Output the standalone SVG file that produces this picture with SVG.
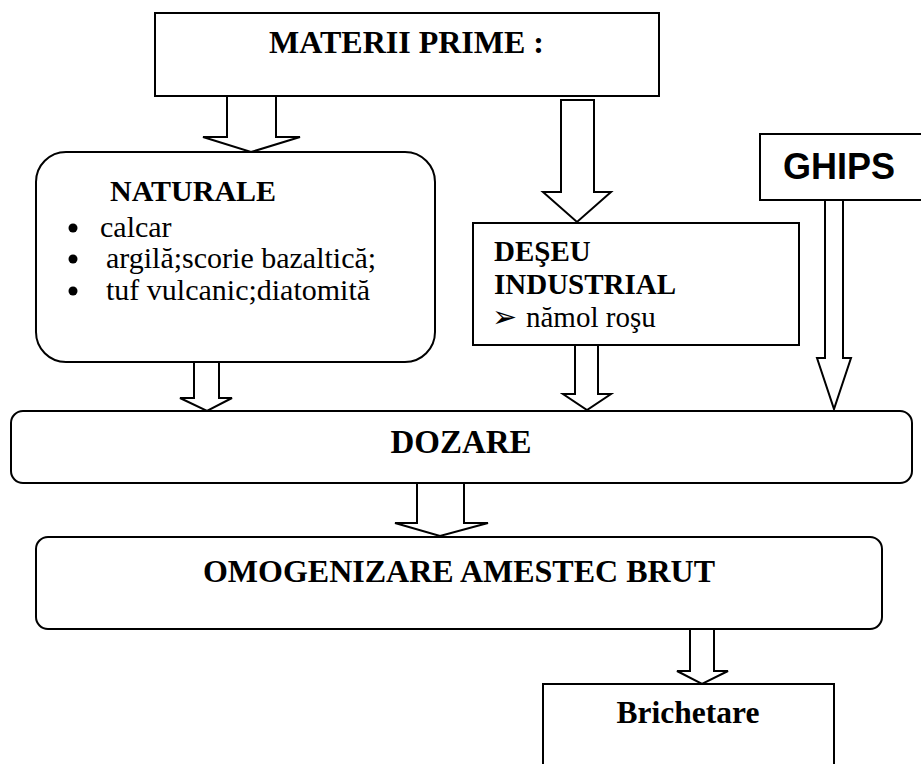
<svg xmlns="http://www.w3.org/2000/svg" width="921" height="764" viewBox="0 0 921 764">
<style>
.box{fill:#fff;stroke:#000;stroke-width:2}
.arr{fill:#fff;stroke:#000;stroke-width:2;stroke-linejoin:miter}
.tb{font-family:"Liberation Serif","Times New Roman",serif;font-weight:bold;fill:#000}
.tr{font-family:"Liberation Serif","Times New Roman",serif;fill:#000}
.ta{font-family:"Liberation Sans",Arial,sans-serif;font-weight:bold;fill:#000}
</style>
<rect width="921" height="764" fill="#fff"/>
<g id="materii">
<rect class="box" x="155" y="13" width="504" height="83"/>
<text class="tb" x="269" y="53" font-size="32">MATERII PRIME :</text>
</g>
<g id="naturale">
<rect class="box" x="36" y="152" width="399" height="210" rx="30" ry="30"/>
<text class="tb" x="110" y="201" font-size="30">NATURALE</text>
<circle cx="73" cy="228" r="4.5"/>
<circle cx="73" cy="259" r="4.5"/>
<circle cx="73" cy="291" r="4.5"/>
<text class="tr" x="100" y="237" font-size="30">calcar</text>
<text class="tr" x="106" y="268" font-size="30">argilă;scorie bazaltică;</text>
<text class="tr" x="106" y="300" font-size="30">tuf vulcanic;diatomită</text>
</g>
<g id="deseu">
<rect class="box" x="473" y="223" width="326" height="122"/>
<text class="tb" x="494" y="261" font-size="29">DEŞEU</text>
<text class="tb" x="494" y="294" font-size="29">INDUSTRIAL</text>
<text x="492" y="327" font-size="30" font-family="DejaVu Sans,sans-serif" font-weight="bold">➢</text>
<text class="tr" x="526" y="327" font-size="29">nămol roşu</text>
</g>
<g id="ghips">
<rect class="box" x="760" y="134" width="170" height="66"/>
<text class="ta" x="783" y="179" font-size="36">GHIPS</text>
</g>
<g id="dozare">
<rect class="box" x="11" y="411" width="901" height="72" rx="12" ry="12"/>
<text class="tb" x="461" y="453" font-size="33" text-anchor="middle">DOZARE</text>
</g>
<g id="omogenizare">
<rect class="box" x="36" y="537" width="846" height="92" rx="12" ry="12"/>
<text class="tb" x="459" y="582" font-size="32" text-anchor="middle">OMOGENIZARE AMESTEC BRUT</text>
</g>
<g id="brichetare">
<rect class="box" x="543" y="684" width="291" height="100"/>
<text class="tb" x="688" y="723" font-size="31.5" text-anchor="middle">Brichetare</text>
</g>
<g id="connectors">
<polygon class="arr" points="227,96 227,137 203,137 251,152 300,137 276,137 276,96"/>
<polygon class="arr" points="561,100 561,192 543,192 577,222 611,192 594,192 594,100"/>
<polygon class="arr" points="194,362 194,398 180,398 207,411 232,398 219,398 219,362"/>
<polygon class="arr" points="575,345 575,394 563,394 587,410 611,394 598,394 598,345"/>
<polygon class="arr" points="825,200 825,358 817,358 834,409 851,358 843,358 843,200"/>
<polygon class="arr" points="417,483 417,523 395,523 440,536 488,523 464,523 464,483"/>
<polygon class="arr" points="690,629 690,671 677,671 702,684 728,671 714,671 714,629"/>
</g>
</svg>
